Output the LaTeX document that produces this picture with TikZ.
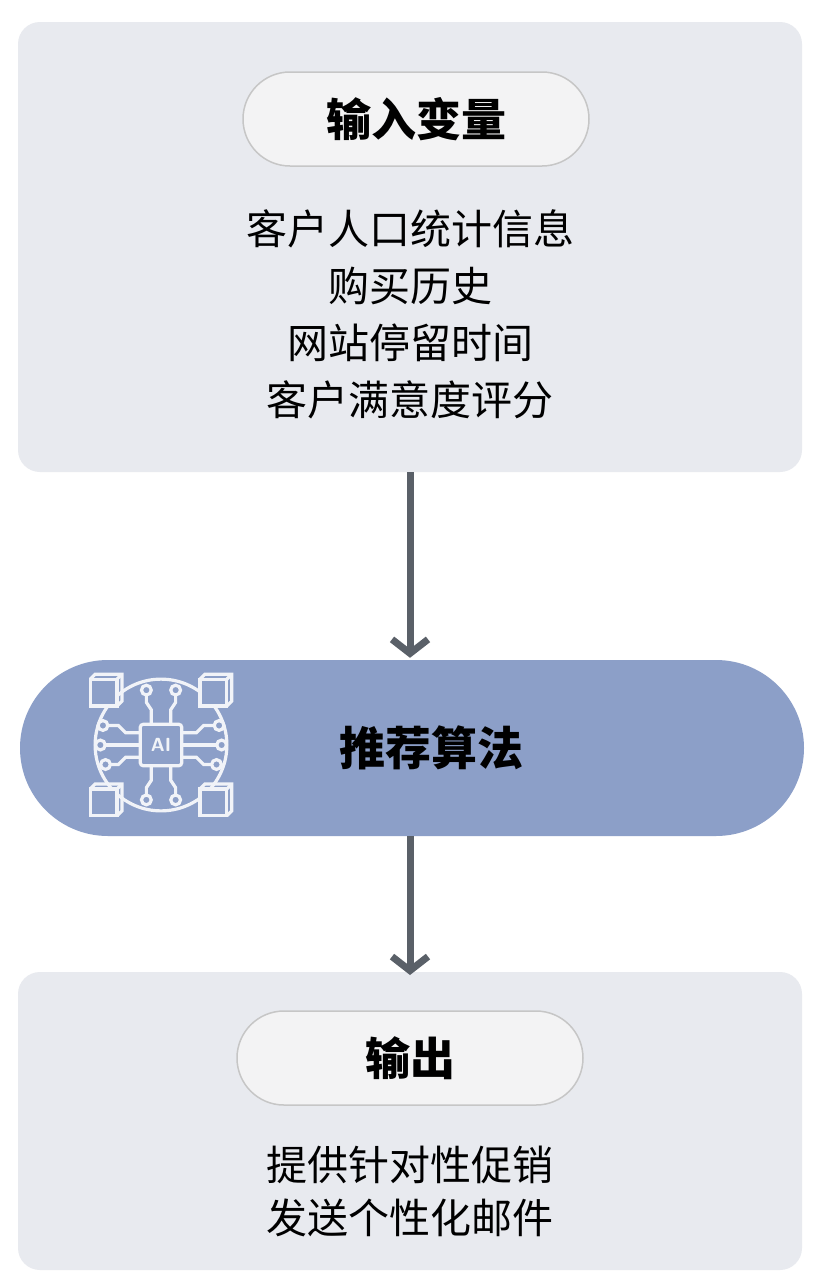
\documentclass[tikz,border=0pt]{standalone}
\usepackage{fontspec}
\newfontfamily\cjk{Noto Sans CJK SC}
\usetikzlibrary{positioning,arrows.meta}
\definecolor{panel}{HTML}{E8EAEF}
\definecolor{pillfill}{HTML}{F3F3F4}
\definecolor{algo}{HTML}{8C9FC8}
\definecolor{arrowgray}{HTML}{5A6068}
\tikzset{
  panel/.style={fill=panel, rounded corners=22pt, draw=none},
  title/.style={fill=pillfill, draw=gray!45, line width=1.5pt, rounded corners=47pt,
    minimum width=346pt, minimum height=94pt, font=\cjk\bfseries\fontsize{45}{50}\selectfont},
  body/.style={font=\cjk\fontsize{41}{57}\selectfont, align=center},
  flow/.style={draw=arrowgray, line width=7pt, -{Straight Barb[length=14pt,width=36pt,line width=7pt]}},
  icon/.style={draw=white!88!algo, line width=3.2pt}
}
\begin{document}
\begin{tikzpicture}[x=1pt,y=-1pt]
  \useasboundingbox (0,0) rectangle (816,1285);
  \fill[white] (0,0) rectangle (816,1285);
  % top panel
  \draw[panel] (18,22) rectangle (802,472);
  \node[title] (inTitle) at (416,119) {输入变量};
  \node[body] (inText) at (410,314) {客户人口统计信息\\购买历史\\网站停留时间\\客户满意度评分};
  \coordinate (inBottom) at (410,472);
  % algorithm
  \node[fill=algo, rounded corners=88pt, minimum width=784pt, minimum height=176pt] (algo) at (412,748) {};
  \node[font=\cjk\bfseries\fontsize{46}{50}\selectfont] at (431,748) {推荐算法};
  % icon
  \begin{scope}[shift={(161,745)}, scale=1.22]
    \draw[icon] (0,0) circle (54);
    \fill[algo] (-22,-22) rectangle (22,22);
    \draw[icon, rounded corners=3pt] (-17,-17) rectangle (17,17);
    \node[text=white!88!algo, font=\sffamily\bfseries\fontsize{19}{19}\selectfont] at (0,0) {AI};
    \foreach \s in {1,-1} {
      \foreach \dy/\len in {-10/36,0/42,10/30} {
        \draw[icon] (\s*17,\dy) -- ++(\s*12,0) -- ++(\s*6,\dy*0.6) -- ++(\s*\len*0.35,0);
        \filldraw[icon, fill=algo] (\s*35+\s*\len*0.35,\dy+\dy*0.6) circle (4);
      }
      \foreach \dx in {-8,8} {
        \draw[icon] (\dx,\s*17) -- ++(0,\s*12) -- ++(\dx*0.5,\s*6) -- ++(0,\s*6);
        \filldraw[icon, fill=algo] (\dx*1.5,\s*45) circle (4);
      }
    }
    \foreach \cx/\cy in {-45/-45,45/-45,-45/45,45/45} {
      \filldraw[icon, fill=algo] (\cx-13,\cy-9) rectangle (\cx+9,\cy+13);
      \draw[icon] (\cx-13,\cy-9) -- (\cx-9,\cy-13) -- (\cx+13,\cy-13) -- (\cx+13,\cy+9) -- (\cx+9,\cy+13);
      \draw[icon] (\cx+9,\cy-9) -- (\cx+13,\cy-13);
    }
  \end{scope}
  % bottom panel
  \draw[panel] (18,972) rectangle (802,1270);
  \node[title] (outTitle) at (410,1058) {输出};
  \node[body, font=\cjk\fontsize{41}{53}\selectfont] (outText) at (410,1191) {提供针对性促销\\发送个性化邮件};
  \coordinate (outTop) at (410,972);
  % arrows
  \draw[flow] (inBottom) -- ([yshift=2pt]algo.north -| inBottom);
  \draw[flow] (algo.south -| outTop) -- ([yshift=-3pt]outTop);
\end{tikzpicture}
\end{document}
